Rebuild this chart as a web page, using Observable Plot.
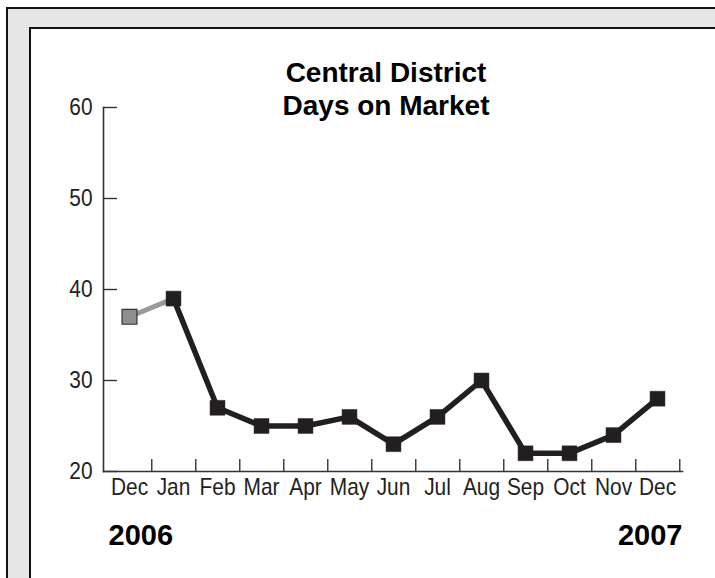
<!DOCTYPE html>
<html>
<head>
<meta charset="utf-8">
<script src="https://cdn.jsdelivr.net/npm/d3@7"></script>
<script src="https://cdn.jsdelivr.net/npm/@observablehq/plot@0.6"></script>
<style>
  html, body { margin: 0; padding: 0; width: 715px; height: 578px; overflow: hidden; background: #fff; }
  #outer { position: absolute; left: 6px; top: 7px; width: 760px; height: 620px; background: #e6e6e6; border: 2px solid #111; box-sizing: border-box; }
  #inner { position: absolute; left: 29px; top: 27px; width: 760px; height: 620px; background: #fff; border-left: 2px solid #111; border-top: 2px solid #111; box-sizing: border-box; }
  #chart { position: absolute; left: 0; top: 0; }
  #chart svg { background: transparent !important; }
</style>
</head>
<body>
<div id="outer"></div>
<div id="inner"></div>
<div id="chart"></div>
<script>
// Data
const months = ["Dec", "Jan", "Feb", "Mar", "Apr", "May", "Jun", "Jul", "Aug", "Sep", "Oct", "Nov", "Dec"];
const days = [37, 39, 27, 25, 25, 26, 23, 26, 30, 22, 22, 24, 28];
const yTicks = [20, 30, 40, 50, 60];
const titleLines = ["Central District", "Days on Market"];
const yearLabels = ["2006", "2007"];

const W = 715, H = 578;
const mL = 103, mR = 33, mT = 107, mB = 107;
const bw = (W - mL - mR) / months.length;

const data = months.map((m, i) => ({i, m, v: days[i]}));
const prev = data.slice(0, 2);
const cur = data.slice(1);
const ink = "#231f20";

const plot = Plot.plot({
  width: W,
  height: H,
  marginLeft: mL,
  marginRight: mR,
  marginTop: mT,
  marginBottom: mB,
  style: {fontFamily: "'Liberation Sans', Arial, sans-serif", background: "transparent", color: ink},
  x: {type: "band", domain: d3.range(months.length), padding: 0, axis: null},
  y: {domain: [20, 60], axis: null},
  marks: [
    // axis lines
    Plot.frame({anchor: "left", stroke: "#333", strokeWidth: 1.6}),
    Plot.frame({anchor: "bottom", stroke: "#333", strokeWidth: 1.6}),
    // y ticks (inward) + labels
    Plot.axisY(yTicks, {anchor: "left", tickSize: -14, tickPadding: 25, fontSize: 24, stroke: "#333", strokeWidth: 1.4, fill: ink, label: null}),
    // x ticks at band boundaries (upward)
    Plot.axisX(d3.range(months.length), {anchor: "bottom", tickSize: -12, dx: bw / 2, fill: "none", stroke: "#333", strokeWidth: 1.4, label: null}),
    // x labels
    Plot.axisX(d3.range(months.length), {anchor: "bottom", tickSize: 0, tickPadding: 6, fontSize: 24, fill: ink, tickFormat: i => months[i], label: null}),
    // lines
    Plot.line(prev, {x: "i", y: "v", stroke: "#9a9a9a", strokeWidth: 5}),
    Plot.line(cur, {x: "i", y: "v", stroke: ink, strokeWidth: 5.5, strokeLinejoin: "round"}),
    // markers
    Plot.dot(prev.slice(0, 1), {x: "i", y: "v", symbol: "square", r: 8.4, fill: "#8e8e8e", stroke: "#333", strokeWidth: 1.2}),
    Plot.dot(cur, {x: "i", y: "v", symbol: "square", r: 8.4, fill: ink, stroke: ink, strokeWidth: 0.5}),
    // title
    Plot.text([titleLines[0]], {text: d => d, frameAnchor: "top", lineAnchor: "middle", dx: -7, dy: -34, fontSize: 28, fontWeight: "bold", fill: "#000"}),
    Plot.text([titleLines[1]], {text: d => d, frameAnchor: "top", lineAnchor: "middle", dx: -7, dy: -1, fontSize: 28, fontWeight: "bold", fill: "#000"}),
    // year labels
    Plot.text([yearLabels[0]], {text: d => d, frameAnchor: "bottom-left", lineAnchor: "middle", textAnchor: "start", dx: 5, dy: 64, fontSize: 29, fontWeight: "bold", fill: "#000"}),
    Plot.text([yearLabels[1]], {text: d => d, frameAnchor: "bottom-right", lineAnchor: "middle", textAnchor: "end", dx: 0, dy: 64, fontSize: 29, fontWeight: "bold", fill: "#000"})
  ]
});
document.getElementById("chart").appendChild(plot);
// condense the tick labels (the original uses a narrow face)
plot.querySelectorAll('g[aria-label$="tick label"] text').forEach(t => {
  const w = t.getComputedTextLength();
  t.setAttribute("textLength", (w * 0.87).toFixed(2));
  t.setAttribute("lengthAdjust", "spacingAndGlyphs");
});
</script>
</body>
</html>
